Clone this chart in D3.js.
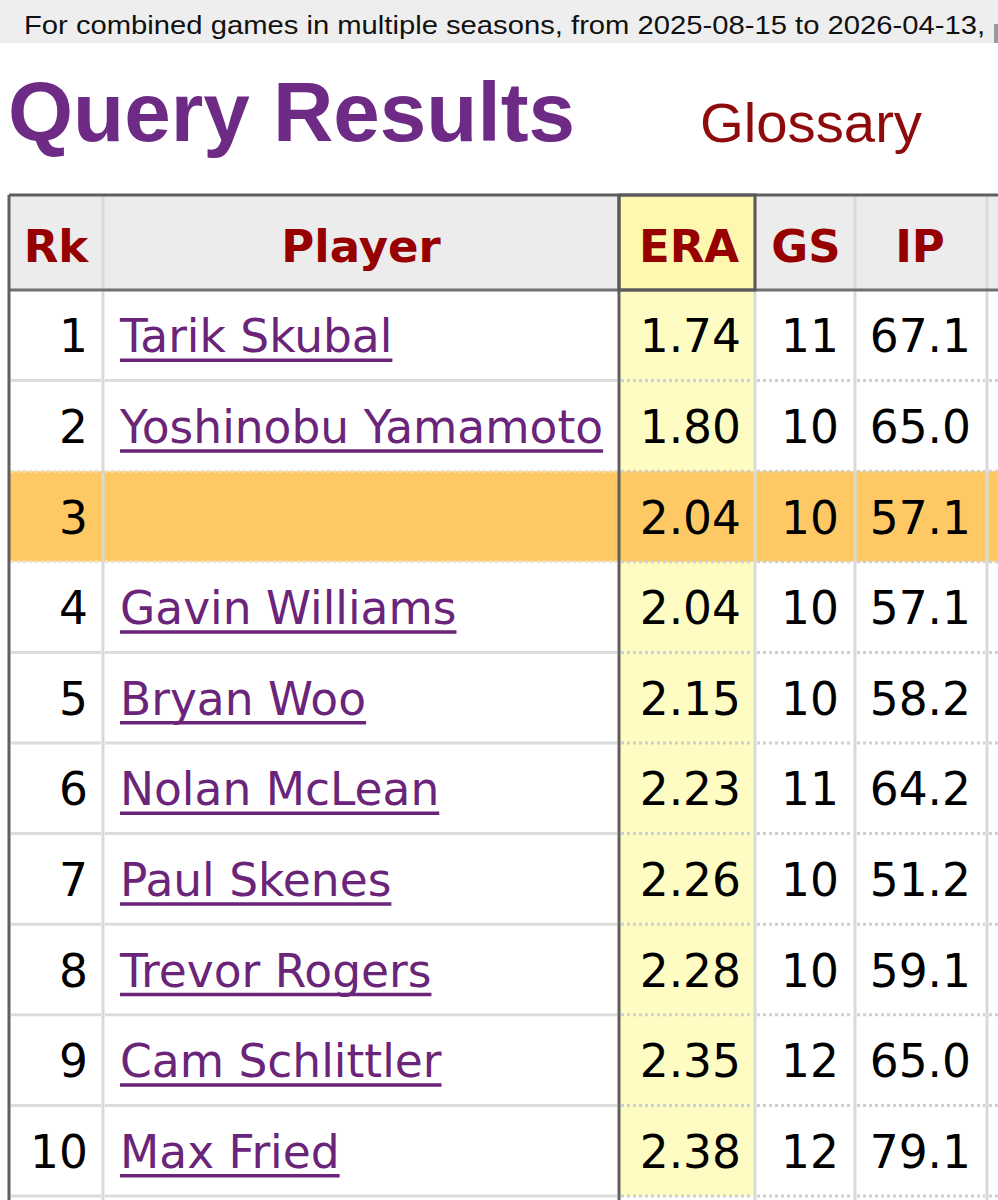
<!DOCTYPE html>
<html>
<head>
<meta charset="utf-8">
<script src="https://cdn.jsdelivr.net/npm/d3@7"></script>
<style>
body { margin: 0; background: #fff; overflow: hidden; }
</style>
</head>
<body>
<div id="chart"></div>
<script>
var width = 998;
var height = 1200;

// data
var headers = ["Rk", "Player", "ERA", "GS", "IP", ""];
var ranks = [1, 2, 3, 4, 5, 6, 7, 8, 9, 10];
var players = ["Tarik Skubal", "Yoshinobu Yamamoto", "", "Gavin Williams", "Bryan Woo",
               "Nolan McLean", "Paul Skenes", "Trevor Rogers", "Cam Schlittler", "Max Fried"];
var era = ["1.74", "1.80", "2.04", "2.04", "2.15", "2.23", "2.26", "2.28", "2.35", "2.38"];
var gs = [11, 10, 10, 10, 10, 11, 10, 10, 12, 12];
var ip = ["67.1", "65.0", "57.1", "57.1", "58.2", "64.2", "51.2", "59.1", "65.0", "79.1"];
var highlighted = [3];

var banner = "For combined games in multiple seasons, from 2025-08-15 to 2026-04-13,";

var svg = d3.select("#chart")
    .append("svg")
    .attr("width", width)
    .attr("height", height);

// columns: left edges
var colKeys = ["rk", "player", "era", "gs", "ip", "next"];
var colLeft = d3.scaleOrdinal().domain(colKeys).range([9, 103, 619, 755, 855, 987]);
var colRight = d3.scaleOrdinal().domain(colKeys).range([103, 619, 755, 855, 987, 1010]);

var y = d3.scaleBand()
    .domain(ranks)
    .range([290, 1196]);

var headTop = 195, headBottom = 290;

// banner
svg.append("rect").attr("x", 0).attr("y", 0).attr("width", width).attr("height", 43)
    .attr("fill", "#eeeeee");
svg.append("text")
    .attr("x", 24).attr("y", 34)
    .attr("font-family", "Liberation Sans, Arial, sans-serif")
    .attr("font-size", 26)
    .attr("fill", "#111")
    .attr("textLength", 961)
    .attr("lengthAdjust", "spacingAndGlyphs")
    .text(banner);
svg.append("rect").attr("x", 994).attr("y", 24).attr("width", 4).attr("height", 19)
    .attr("fill", "#999");

// title
svg.append("text")
    .attr("x", 8).attr("y", 141)
    .attr("font-family", "Liberation Sans, Arial, sans-serif")
    .attr("font-weight", "bold")
    .attr("font-size", 83)
    .attr("fill", "#6e2b86")
    .attr("textLength", 567)
    .attr("lengthAdjust", "spacingAndGlyphs")
    .text("Query Results");
svg.append("text")
    .attr("x", 700).attr("y", 142)
    .attr("font-family", "Liberation Sans, Arial, sans-serif")
    .attr("font-size", 56)
    .attr("fill", "#8e0b0b")
    .attr("textLength", 222)
    .attr("lengthAdjust", "spacingAndGlyphs")
    .text("Glossary");

// header background
var gHead = svg.append("g");
gHead.append("rect")
    .attr("x", colLeft("rk")).attr("y", headTop)
    .attr("width", width - colLeft("rk")).attr("height", headBottom - headTop)
    .attr("fill", "#ececec");
gHead.append("rect")
    .attr("x", colLeft("era")).attr("y", headTop)
    .attr("width", colRight("era") - colLeft("era")).attr("height", headBottom - headTop)
    .attr("fill", "#fdf8ae");

// row backgrounds
var gRows = svg.append("g");
ranks.forEach(function(r) {
    var hl = highlighted.indexOf(r) >= 0;
    colKeys.forEach(function(k) {
        var fill = hl ? "#fec964" : (k === "era" ? "#fefcc3" : "#ffffff");
        gRows.append("rect")
            .attr("x", colLeft(k)).attr("y", y(r))
            .attr("width", colRight(k) - colLeft(k)).attr("height", y.bandwidth())
            .attr("fill", fill);
    });
});

// vertical light separators
var gLines = svg.append("g");
["rk", "era", "gs", "ip"].forEach(function(k) {
    gLines.append("line")
        .attr("x1", colRight(k)).attr("x2", colRight(k))
        .attr("y1", headTop).attr("y2", height)
        .attr("stroke", "#d9d9d9")
        .attr("stroke-width", 3);
});

// horizontal row separators
ranks.forEach(function(r) {
    var yb = y(r) + y.bandwidth();
    var hlEdge = highlighted.indexOf(r) >= 0 || highlighted.indexOf(r + 1) >= 0;
    colKeys.forEach(function(k) {
        var numeric = (k !== "rk" && k !== "player");
        var dotted = numeric || hlEdge;
        gLines.append("line")
            .attr("x1", colLeft(k) + 2).attr("x2", colRight(k) - 2)
            .attr("y1", yb).attr("y2", yb)
            .attr("stroke", dotted ? (hlEdge && !numeric ? "#e6e2d6" : "#cfcfcf") : "#dcdcdc")
            .attr("stroke-width", 3)
            .attr("stroke-dasharray", dotted ? "3,3" : null);
    });
});

// dark borders
var dark = "#5f5f5f";
gLines.append("line").attr("x1", colLeft("rk")).attr("x2", width)
    .attr("y1", headTop).attr("y2", headTop).attr("stroke", dark).attr("stroke-width", 3);
gLines.append("line").attr("x1", colLeft("rk")).attr("x2", width)
    .attr("y1", headBottom).attr("y2", headBottom).attr("stroke", "#707070").attr("stroke-width", 3);
gLines.append("line").attr("x1", colLeft("rk")).attr("x2", colLeft("rk"))
    .attr("y1", headTop).attr("y2", height).attr("stroke", dark).attr("stroke-width", 3);
gLines.append("line").attr("x1", colLeft("era")).attr("x2", colLeft("era"))
    .attr("y1", headTop).attr("y2", height).attr("stroke", dark).attr("stroke-width", 3);
gLines.append("rect")
    .attr("x", colLeft("era")).attr("y", headTop)
    .attr("width", colRight("era") - colLeft("era")).attr("height", headBottom - headTop)
    .attr("fill", "none")
    .attr("stroke", "#5a5a5a")
    .attr("stroke-width", 3);

// header text
var headCenters = { rk: 56, player: 361, era: 689, gs: 806, ip: 920 };
var gHeadText = svg.append("g")
    .attr("font-family", "DejaVu Sans, Verdana, sans-serif")
    .attr("font-weight", "bold")
    .attr("font-size", 45)
    .attr("fill", "#960000")
    .attr("text-anchor", "middle");
headers.forEach(function(h, i) {
    if (!h) return;
    gHeadText.append("text")
        .attr("x", headCenters[colKeys[i]])
        .attr("y", 262)
        .text(h);
});

// cell text
var gText = svg.append("g")
    .attr("font-family", "DejaVu Sans, Verdana, sans-serif")
    .attr("font-size", 45.5)
    .attr("fill", "#000");

function baseline(r) { return y(r) + y.bandwidth() / 2 + 17; }

gText.selectAll(".rk").data(ranks).enter().append("text")
    .attr("x", 88).attr("y", function(d) { return baseline(d); })
    .attr("text-anchor", "end")
    .text(function(d) { return d; });

gText.selectAll(".era").data(ranks).enter().append("text")
    .attr("x", 741).attr("y", function(d) { return baseline(d); })
    .attr("text-anchor", "end")
    .text(function(d, i) { return era[i]; });

gText.selectAll(".gs").data(ranks).enter().append("text")
    .attr("x", 839).attr("y", function(d) { return baseline(d); })
    .attr("text-anchor", "end")
    .text(function(d, i) { return gs[i]; });

gText.selectAll(".ip").data(ranks).enter().append("text")
    .attr("x", 971).attr("y", function(d) { return baseline(d); })
    .attr("text-anchor", "end")
    .text(function(d, i) { return ip[i]; });

var names = gText.selectAll(".name").data(ranks).enter().append("g");
names.each(function(d, i) {
    if (!players[i]) return;
    var g = d3.select(this);
    var t = g.append("text")
        .attr("x", 120).attr("y", baseline(d))
        .attr("fill", "#6a2479")
        .text(players[i]);
    var w = t.node().getComputedTextLength();
    g.append("line")
        .attr("x1", 120).attr("x2", 120 + w)
        .attr("y1", baseline(d) + 8).attr("y2", baseline(d) + 8)
        .attr("stroke", "#6a2479")
        .attr("stroke-width", 3.5);
});
</script>
</body>
</html>
